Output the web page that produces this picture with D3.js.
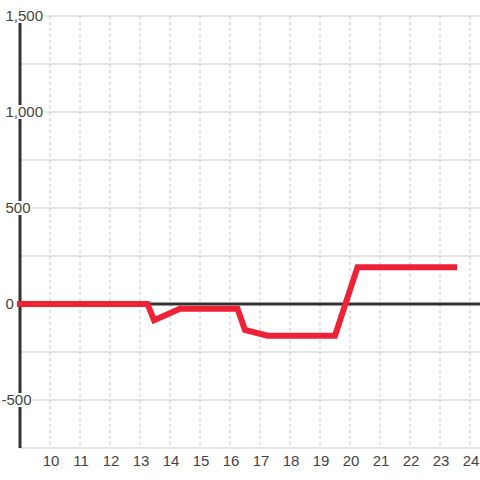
<!DOCTYPE html>
<html>
<head>
<meta charset="utf-8">
<script src="https://cdn.jsdelivr.net/npm/d3@7"></script>
<style>
  body { margin: 0; background: #fff; }
  text { font-family: "Liberation Sans", Arial, sans-serif; font-size: 15px; fill: #444; }
</style>
</head>
<body>
<svg id="vis" width="480" height="480"></svg>
<script>
// data (hour, value)
const hours  = [8.9, 13.25, 13.47, 14.33, 16.25, 16.5, 17.25, 19.5, 20.25, 23.57];
const values = [0, 0, -85, -25, -25, -135, -165, -165, 192, 192];
const xTicks = [10, 11, 12, 13, 14, 15, 16, 17, 18, 19, 20, 21, 22, 23, 24];
const yTicks = [-750, -500, -250, 0, 250, 500, 750, 1000, 1250, 1500];
const yLabels = [-500, 0, 500, 1000, 1500];

const svg = d3.select("svg#vis");
const width = 480, height = 480;
const margin = {top: 16, right: 0, bottom: 32, left: 20};

const x = d3.scaleLinear()
  .domain([9, 24.333])
  .range([margin.left, width - margin.right]);

const y = d3.scaleLinear()
  .domain([-750, 1500])
  .range([height - margin.bottom, margin.top]);

// horizontal grid
svg.append("g").selectAll("line")
  .data(yTicks)
  .enter()
  .append("line")
  .attr("x1", margin.left)
  .attr("x2", width)
  .attr("y1", d => y(d))
  .attr("y2", d => y(d))
  .attr("stroke", "#ccc")
  .attr("stroke-width", 1);

// vertical dotted grid
svg.append("g").selectAll("line")
  .data(xTicks)
  .enter()
  .append("line")
  .attr("x1", d => x(d))
  .attr("x2", d => x(d))
  .attr("y1", y(1500))
  .attr("y2", y(-750))
  .attr("stroke", "#c4c4c4")
  .attr("stroke-width", 1)
  .attr("stroke-dasharray", "3,3");

// y axis line
svg.append("line")
  .attr("x1", margin.left)
  .attr("x2", margin.left)
  .attr("y1", y(1500))
  .attr("y2", y(-750))
  .attr("stroke", "#333")
  .attr("stroke-width", 3);

// zero line
svg.append("line")
  .attr("x1", margin.left)
  .attr("x2", width)
  .attr("y1", y(0))
  .attr("y2", y(0))
  .attr("stroke", "#333")
  .attr("stroke-width", 3);

// y labels with white backing so they knock out the axis
const fmt = d => d3.format(",")(d).replace("\u2212", "-");
const yl = svg.append("g").selectAll("g")
  .data(yLabels)
  .enter()
  .append("g");
yl.append("rect").attr("fill", "#fff");
yl.append("text")
  .attr("x", d => d < 0 ? 1.5 : 5.5)
  .attr("y", d => y(d))
  .attr("dy", "0.35em")
  .attr("text-anchor", "start")
  .text(d => fmt(d));
yl.each(function(d) {
  const b = d3.select(this).select("text").node().getBBox();
  d3.select(this).select("rect")
    .attr("x", b.x)
    .attr("y", y(d) - 7)
    .attr("width", b.width + 1)
    .attr("height", 14);
});

// the series
const line = d3.line()
  .x(d => x(d[0]))
  .y(d => y(d[1]));

svg.append("path")
  .datum(d3.zip(hours, values))
  .attr("d", line)
  .attr("fill", "none")
  .attr("stroke", "#ee2236")
  .attr("stroke-width", 6)
  .attr("stroke-linejoin", "miter");

// x labels
svg.append("g").selectAll("text")
  .data(xTicks)
  .enter()
  .append("text")
  .attr("x", d => x(d) + 1)
  .attr("y", 461)
  .attr("dy", "0.35em")
  .attr("text-anchor", "middle")
  .text(d => d);
</script>
</body>
</html>
